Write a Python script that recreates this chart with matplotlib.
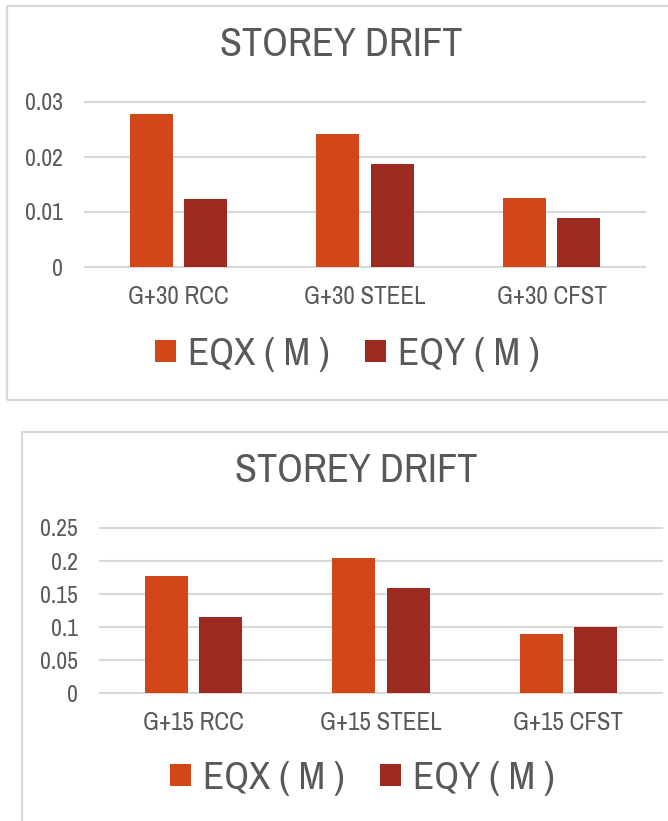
import numpy as np
import matplotlib
matplotlib.use("Agg")
import matplotlib.pyplot as plt
from matplotlib import font_manager
from matplotlib.patches import Rectangle

# storey drift results, earthquake load in X and Y (metres)
cats_30 = ["G+30 RCC", "G+30 STEEL", "G+30 CFST"]
eqx_30 = [0.0279, 0.0241, 0.0126]
eqy_30 = [0.0124, 0.0187, 0.0089]
ticks_30 = [0, 0.01, 0.02, 0.03]
ticklabels_30 = ["0", "0.01", "0.02", "0.03"]

cats_15 = ["G+15 RCC", "G+15 STEEL", "G+15 CFST"]
eqx_15 = [0.178, 0.205, 0.089]
eqy_15 = [0.115, 0.159, 0.100]
ticks_15 = [0, 0.05, 0.1, 0.15, 0.2, 0.25]
ticklabels_15 = ["0", "0.05", "0.1", "0.15", "0.2", "0.25"]

series_names = ["EQX ( M )", "EQY ( M )"]

C_X = "#D24718"
C_Y = "#9C2A21"
TXT = "#595959"
GRID = "#D9D9D9"

# narrow sans if there is one, else condensed DejaVu
names = {f.name for f in font_manager.fontManager.ttflist}
for fam in ["Liberation Sans Narrow", "Archivo Narrow"]:
    if fam in names:
        plt.rcParams["font.family"] = [fam, "DejaVu Sans"]
        break
else:
    plt.rcParams["font.family"] = ["DejaVu Sans"]
    plt.rcParams["font.stretch"] = "condensed"

W, H = 668, 821
fig = plt.figure(figsize=(W / 100, H / 100), dpi=100)


def px_axes(left, right, top, bottom):
    return fig.add_axes([left / W, 1 - bottom / H, (right - left) / W, (bottom - top) / H])


def draw_chart(ax, cats, xs, ys, ticks, ticklabels, title, title_xy, leg_xy):
    x = np.arange(len(cats))
    w = 0.23
    off = 0.145
    b1 = ax.bar(x - off, xs, w, color=C_X, zorder=3)
    b2 = ax.bar(x + off, ys, w, color=C_Y, zorder=3)
    ax.set_xlim(-0.5, len(cats) - 0.5)
    ax.set_ylim(ticks[0], ticks[-1])
    for t in ticks:
        ax.axhline(t, color=GRID, lw=1.5, zorder=1, clip_on=False)
    ax.set_yticks(ticks)
    ax.set_yticklabels(ticklabels)
    ax.set_xticks(x)
    ax.set_xticklabels(cats)
    ax.tick_params(axis="y", length=0, pad=16, labelsize=17, labelcolor=TXT)
    ax.tick_params(axis="x", length=0, pad=13, labelsize=18, labelcolor=TXT)
    for s in ax.spines.values():
        s.set_visible(False)
    fig.text(title_xy[0] / W, 1 - title_xy[1] / H, title, ha="center", va="center",
             fontsize=29, color=TXT)
    fig.legend([b1, b2], series_names, loc="center",
               bbox_to_anchor=(leg_xy[0] / W, 1 - leg_xy[1] / H),
               ncol=2, frameon=False, fontsize=28, labelcolor=TXT,
               handlelength=0.55, handleheight=0.5, handletextpad=0.3,
               columnspacing=0.9, borderpad=0)


# chart borders
fig.patches.append(Rectangle((6.5 / W, 1 - 400 / H), 700 / W, 394 / H,
                             transform=fig.transFigure, fill=False,
                             edgecolor=GRID, lw=1.6))
fig.patches.append(Rectangle((22 / W, -0.1), 700 / W, 1 - 432 / H + 0.1,
                             transform=fig.transFigure, fill=False,
                             edgecolor=GRID, lw=1.6))

ax1 = px_axes(85, 645, 102, 267)
draw_chart(ax1, cats_30, eqx_30, eqy_30, ticks_30, ticklabels_30,
           "STOREY DRIFT", (341, 45), (347, 354))

ax2 = px_axes(100, 662, 528, 693)
draw_chart(ax2, cats_15, eqx_15, eqy_15, ticks_15, ticklabels_15,
           "STOREY DRIFT", (356, 470), (362, 778))

fig.savefig("out.png", dpi=100)
